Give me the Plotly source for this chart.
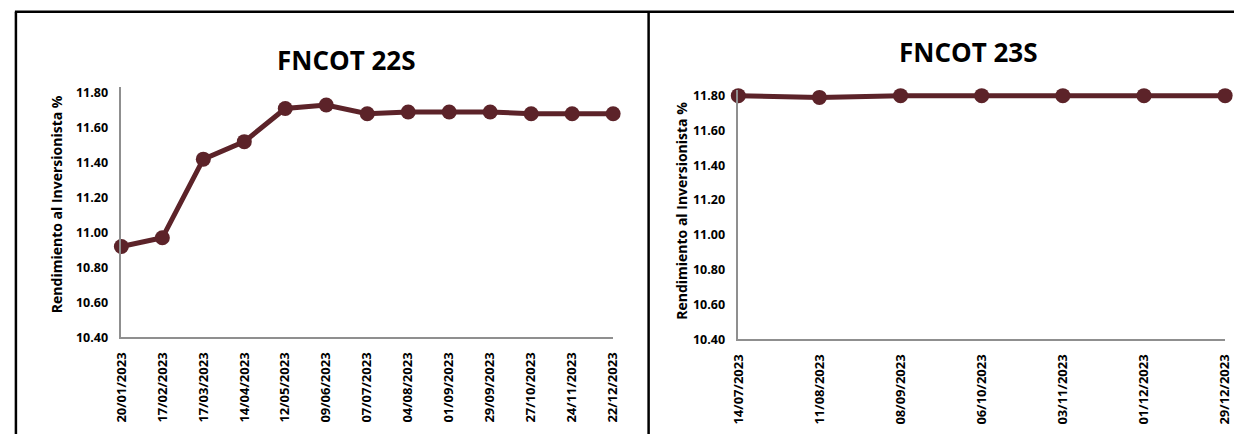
import plotly.graph_objects as go

W, H = 1242, 442

dates_22s = ["20/01/2023", "17/02/2023", "17/03/2023", "14/04/2023", "12/05/2023",
             "09/06/2023", "07/07/2023", "04/08/2023", "01/09/2023", "29/09/2023",
             "27/10/2023", "24/11/2023", "22/12/2023"]
vals_22s = [10.92, 10.97, 11.42, 11.52, 11.71, 11.73, 11.68, 11.69, 11.69, 11.69,
            11.68, 11.68, 11.68]

dates_23s = ["14/07/2023", "11/08/2023", "08/09/2023", "06/10/2023", "03/11/2023",
             "01/12/2023", "29/12/2023"]
vals_23s = [11.80, 11.79, 11.80, 11.80, 11.80, 11.80, 11.80]

y_ticks = [10.40, 10.60, 10.80, 11.00, 11.20, 11.40, 11.60, 11.80]

LINE_COLOR = "#5c2329"
AXIS_COLOR = "#8f8f8f"
FONT = "Open Sans"

Y_MIN, Y_MAX = 10.40, 11.80
Y_EXT = 11.83  # small headroom so the thick line at 11.80 is not clipped


def px(x):
    return x / W


def py(y):
    return 1 - y / H


def ydomain(bottom_px, top_px):
    ppu = (bottom_px - top_px) / (Y_MAX - Y_MIN)
    top_ext = bottom_px - (Y_EXT - Y_MIN) * ppu
    return [py(bottom_px), py(top_ext)]


fig = go.Figure()
fig.add_trace(go.Scatter(x=dates_22s, y=vals_22s, mode="lines+markers",
                         line=dict(color=LINE_COLOR, width=5),
                         marker=dict(color=LINE_COLOR, size=15),
                         cliponaxis=False, xaxis="x", yaxis="y", showlegend=False))
fig.add_trace(go.Scatter(x=dates_23s, y=vals_23s, mode="lines+markers",
                         line=dict(color=LINE_COLOR, width=5),
                         marker=dict(color=LINE_COLOR, size=15),
                         cliponaxis=False, xaxis="x2", yaxis="y2", showlegend=False))

xtickfont = dict(family=FONT, size=13, color="#000000", weight="bold")
ytickfont = dict(family=FONT, size=12.5, color="#000000", weight="bold")

xcommon = dict(type="category", showgrid=False, zeroline=False, showline=True,
               linecolor=AXIS_COLOR, linewidth=1.5, tickangle=-90, tickfont=xtickfont,
               ticks="", ticklabelstandoff=8, fixedrange=True)
ycommon = dict(range=[Y_MIN, Y_EXT], tickvals=y_ticks, tickformat=".2f", showgrid=False,
               zeroline=False, showline=True, linecolor=AXIS_COLOR, linewidth=1.5,
               tickfont=ytickfont, ticks="", ticklabelstandoff=9, fixedrange=True)

fig.update_layout(
    width=W, height=H,
    margin=dict(l=0, r=0, t=0, b=0),
    paper_bgcolor="white", plot_bgcolor="white",
    xaxis=dict(domain=[px(113), px(612)], range=[0, len(dates_22s) - 1], anchor="y", **xcommon),
    yaxis=dict(domain=ydomain(343, 92), anchor="x", **ycommon),
    xaxis2=dict(domain=[px(739), px(1233)], range=[0, len(dates_23s) - 1], anchor="y2", **xcommon),
    yaxis2=dict(domain=ydomain(345, 95), anchor="x2", **ycommon),
)

title_font = dict(family=FONT, size=26, color="#000000", weight="bold")
ytitle_font = dict(family=FONT, size=14, color="#000000", weight="bold")
annotations = [
    dict(text="FNCOT 22S", x=px(341), y=py(58), xref="paper", yref="paper",
         showarrow=False, font=title_font, xanchor="center", yanchor="middle"),
    dict(text="FNCOT 23S", x=px(973), y=py(50), xref="paper", yref="paper",
         showarrow=False, font=title_font, xanchor="center", yanchor="middle"),
    dict(text="Rendimiento al Inversionista %", x=px(48), y=py(206), xref="paper",
         yref="paper", showarrow=False, font=ytitle_font, textangle=-90,
         xanchor="center", yanchor="middle"),
    dict(text="Rendimiento al Inversionista %", x=px(682), y=py(213), xref="paper",
         yref="paper", showarrow=False, font=ytitle_font, textangle=-90,
         xanchor="center", yanchor="middle"),
]
fig.update_layout(annotations=annotations)

border = dict(color="#000000", width=2.5)
fig.update_layout(shapes=[
    dict(type="line", xref="paper", yref="paper", x0=px(5), x1=1, y0=py(9), y1=py(9), line=border),
    dict(type="line", xref="paper", yref="paper", x0=px(6), x1=px(6), y0=py(9), y1=0, line=border),
    dict(type="line", xref="paper", yref="paper", x0=px(648), x1=px(648), y0=py(9), y1=0, line=border),
])

# the page's default 8px body margin would push the figure off its 1242x442 frame
post = """
document.body.style.margin = '0';
document.body.style.overflow = 'hidden';
"""
fig.write_html("out.html", config={"displayModeBar": False}, post_script=post)
